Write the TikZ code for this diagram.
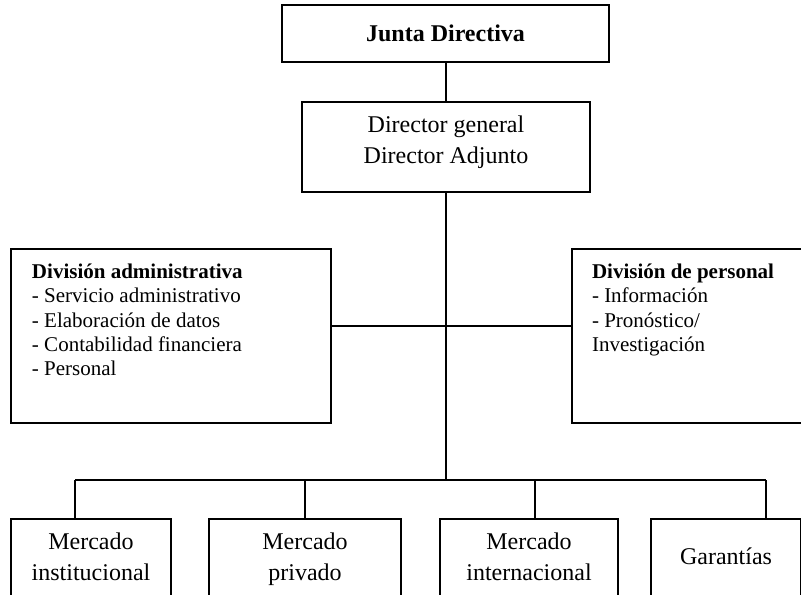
\documentclass[tikz,border=0pt]{standalone}
\usepackage{fontspec}
\setmainfont{Liberation Serif}
\newcommand{\mktop}{\rule{0pt}{8.5pt}}
\newcommand{\mkbot}{\rule[-8pt]{0pt}{8pt}}
\begin{document}
\begin{tikzpicture}[x=0.5pt,y=-0.5pt,line width=1pt,
  box/.style={draw,rectangle,inner sep=0pt,align=center,font=\fontsize{12}{15.5}\selectfont},
  divtext/.style={inner sep=0pt,align=left,anchor=north west,font=\fontsize{10.5}{12.15}\selectfont}]
\useasboundingbox (0,0) rectangle (801,594);
% top
\node [box,minimum width=163.5pt,minimum height=28.5pt] (junta) at (445.5,33.5) {\textbf{Junta Directiva}};
\node [box,minimum width=144pt,minimum height=45pt] (director) at (446,147) {\mktop Director general\\Director Adjunto\mkbot};
% divisions
\node [box,minimum width=160pt,minimum height=87pt] (adm) at (171,336) {};
\node [box,minimum width=160pt,minimum height=87pt] (pers) at (732,336) {};
\node [divtext] (admtext) at ([xshift=10.5pt,yshift=-7.5pt]adm.north west) {\textbf{División administrativa}\\- Servicio administrativo\\- Elaboración de datos\\- Contabilidad financiera\\- Personal};
\node [divtext] (perstext) at ([xshift=10pt,yshift=-7.5pt]pers.north west) {\textbf{División de personal}\\- Información\\- Pronóstico/\\Investigación};
% markets
\node [box,minimum width=80pt,minimum height=45pt] (inst) at (91,564) {\mktop Mercado\\institucional\mkbot};
\node [box,minimum width=96pt,minimum height=45pt] (priv) at (305,564) {\mktop Mercado\\privado\mkbot};
\node [box,minimum width=89pt,minimum height=45pt] (inter) at (529,564) {\mktop Mercado\\internacional\mkbot};
\node [box,minimum width=75pt,minimum height=45pt] (gar) at (726,564) {\mktop Garantías\mkbot};
% lines
\coordinate (cross) at (446,326);
\coordinate (bus) at (446,480);
\coordinate (busl) at (75,480);
\coordinate (busr) at (766,480);
\draw (junta.south) -- (junta.south |- director.north);
\draw (director.south) -- (bus);
\draw (cross -| adm.east) -- (cross -| pers.west);
\draw (busl) -- (busr);
\draw (busl) -- (busl |- inst.north);
\draw (bus -| priv.north) -- (priv.north);
\draw (535,480) -- (535,480 |- inter.north);
\draw (busr) -- (busr |- gar.north);
\end{tikzpicture}
\end{document}
